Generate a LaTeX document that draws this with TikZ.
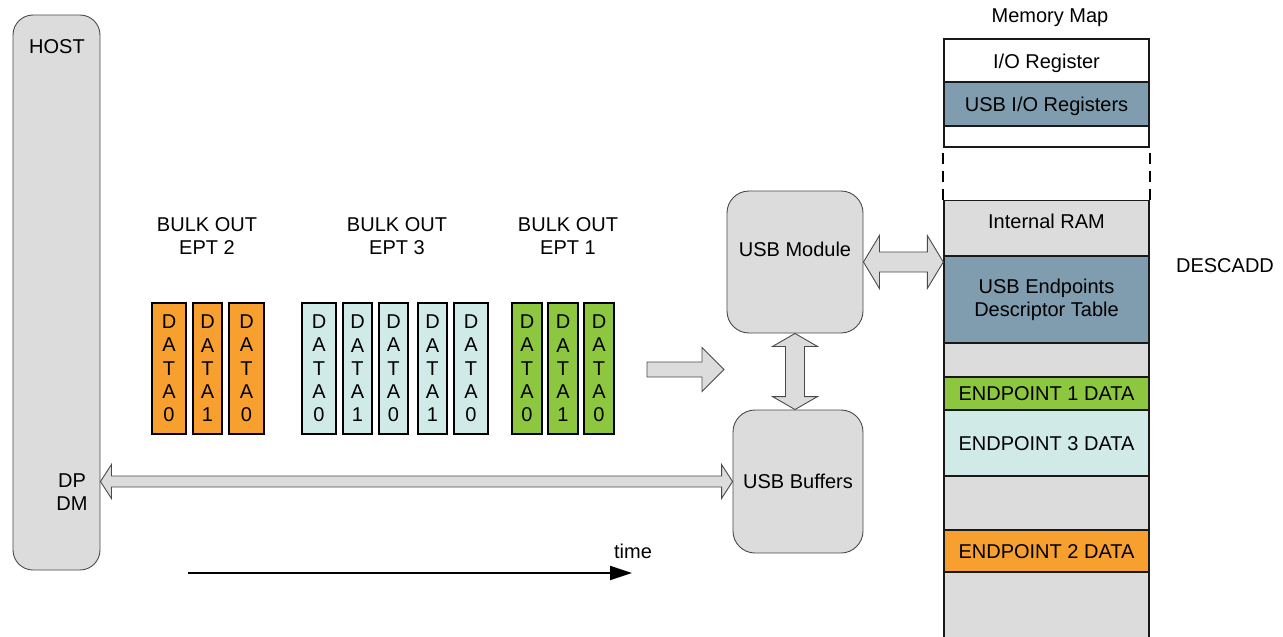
\documentclass[tikz,border=0pt]{standalone}
\usepackage{fontspec}
\setmainfont{Liberation Sans}
\usepackage{xcolor}
\usetikzlibrary{arrows.meta,calc,positioning}

\definecolor{boxgrey}{HTML}{DCDCDC}
\definecolor{edgegrey}{HTML}{4A4A4A}
\definecolor{pktorange}{HTML}{F7A030}
\definecolor{pktgreen}{HTML}{8DC63F}
\definecolor{pktcyan}{HTML}{D0EAE8}
\definecolor{regblue}{HTML}{7F9DAF}

% outlined block arrows, drawn between two anchors
\newcommand{\hbiarrow}[5]{%
  \draw[blockarrow] let \p1=(#1), \p2=(#2) in
    (\p1) -- ({\x1+#5},{\y1+#4}) -- ({\x1+#5},{\y1+#3}) -- ({\x2-#5},{\y1+#3})
    -- ({\x2-#5},{\y1+#4}) -- (\x2,\y1) -- ({\x2-#5},{\y1-#4}) -- ({\x2-#5},{\y1-#3})
    -- ({\x1+#5},{\y1-#3}) -- ({\x1+#5},{\y1-#4}) -- cycle;}
\newcommand{\vbiarrow}[5]{%
  \draw[blockarrow] let \p1=(#1), \p2=(#2) in
    (\p1) -- ({\x1+#4},{\y1-#5}) -- ({\x1+#3},{\y1-#5}) -- ({\x1+#3},{\y2+#5})
    -- ({\x1+#4},{\y2+#5}) -- (\x1,\y2) -- ({\x1-#4},{\y2+#5}) -- ({\x1-#3},{\y2+#5})
    -- ({\x1-#3},{\y1-#5}) -- ({\x1-#4},{\y1-#5}) -- cycle;}

\begin{document}
\begin{tikzpicture}[
    >=Stealth,
    x=1pt,
    y=-1pt,
    every node/.style={font=\fontsize{20pt}{23.3pt}\selectfont, inner sep=0pt},
    captext/.style={text height=14pt, text depth=0pt},
    unit/.style={rectangle, rounded corners=22pt, draw=edgegrey, fill=boxgrey, line width=0.9pt},
    packet/.style={draw=black, line width=1.4pt, minimum height=131pt, align=center},
    memseg/.style={draw=black!90, line width=1.4pt, minimum width=205pt, align=center},
    blockarrow/.style={draw=edgegrey, fill=boxgrey, line width=0.9pt},
    timearrow/.style={-{Triangle[length=22pt, width=14pt]}, line width=1.8pt}
  ]
  \useasboundingbox (0,0) rectangle (1283,637);

  %
  \node[unit, rounded corners=20pt, minimum width=87pt, minimum height=555pt] (host) at (56.5,292.5) {};
  \node (hostlbl) at (57,47) {HOST};
  \node[align=center] (dpdm) at (72,492) {DP\\DM};

  %
  \node[align=center] (ttl2) at (207,236) {BULK OUT\\EPT 2};
  \node[align=center] (ttl3) at (397,236) {BULK OUT\\EPT 3};
  \node[align=center] (ttl1) at (568,236) {BULK OUT\\EPT 1};

  \foreach \xc/\w/\n/\d in {169/34/o1/0, 207.5/29/o2/1, 246.5/35/o3/0}
    \node[packet, fill=pktorange, minimum width=\w*1pt] (\n) at (\xc,368.5) {D\\A\\T\\A\\\d};
  \foreach \xc/\w/\n/\d in {319/34/c1/0, 357.5/29/c2/1, 393.5/29/c3/0, 432.5/29/c4/1, 471/34/c5/0}
    \node[packet, fill=pktcyan, minimum width=\w*1pt] (\n) at (\xc,368.5) {D\\A\\T\\A\\\d};
  \foreach \xc/\w/\n/\d in {527/30/g1/0, 563/30/g2/1, 599/30/g3/0}
    \node[packet, fill=pktgreen, minimum width=\w*1pt] (\n) at (\xc,368.5) {D\\A\\T\\A\\\d};

  %
  \coordinate (feedtail) at (647,369.5);
  \coordinate (feedtip) at (724,369.5);
  \draw[blockarrow] let \p1=(feedtail), \p2=(feedtip) in
    (\x1,{\y1+7.5pt}) -- ({\x2-22pt},{\y1+7.5pt}) -- ({\x2-22pt},{\y1+22pt}) -- (\p2)
    -- ({\x2-22pt},{\y1-22pt}) -- ({\x2-22pt},{\y1-7.5pt}) -- (\x1,{\y1-7.5pt}) -- cycle;

  %
  \node[unit, minimum width=136pt, minimum height=142pt] (mod) at (795,262) {};
  \node (modlbl) at (795,249) {USB Module};
  \node[unit, minimum width=130pt, minimum height=143pt] (buf) at (798,481.5) {USB Buffers};

  %
  \node[captext] (maptitle) at (1050,16) {Memory Map};
  \node[memseg, fill=boxgrey, minimum height=445pt, anchor=north] (ram) at (1046.5,200) {};
  \node[captext, below=14pt of ram.north] (ramlbl) {Internal RAM};
  \node[memseg, captext, fill=white, minimum height=44pt] (ioreg) at (1046.5,61) {I/O Register};
  \node[memseg, captext, fill=regblue, minimum height=44pt] (usbreg) at (1046.5,104) {USB I/O Registers};
  \node[memseg, fill=white, minimum height=21pt] (gap) at (1046.5,136.5) {};
  \draw[line width=1.8pt, dash pattern=on 11pt off 7pt, dash phase=-5pt] (gap.south west) -- (ram.north west);
  \draw[line width=1.8pt, dash pattern=on 11pt off 7pt, dash phase=-5pt] (gap.south east) -- (ram.north east);
  \node[memseg, fill=regblue, minimum height=87pt] (desc) at (1046.5,299.5) {USB Endpoints\\Descriptor Table};
  \node[memseg, captext, fill=pktgreen, minimum height=33pt] (ep1) at (1046.5,393.5) {ENDPOINT 1 DATA};
  \node[memseg, captext, fill=pktcyan, minimum height=66pt] (ep3) at (1046.5,443) {ENDPOINT 3 DATA};
  \node[memseg, captext, fill=pktorange, minimum height=42pt] (ep2) at (1046.5,551) {ENDPOINT 2 DATA};
  \node (descadd) at (1225,266) {DESCADD};

  %
  \hbiarrow{host.east |- buf.west}{buf.west}{5.5pt}{17pt}{11pt}
  \hbiarrow{mod.east}{mod.east -| ram.west}{10pt}{26.5pt}{16pt}
  \vbiarrow{mod.south}{mod.south |- buf.north}{9.5pt}{22.5pt}{13pt}

  %
  \coordinate (tstart) at (188,573);
  \coordinate (tend) at (632,573);
  \draw[timearrow] (tstart) -- (tend);
  \node (timelbl) at (633,551) {time};
\end{tikzpicture}
\end{document}
